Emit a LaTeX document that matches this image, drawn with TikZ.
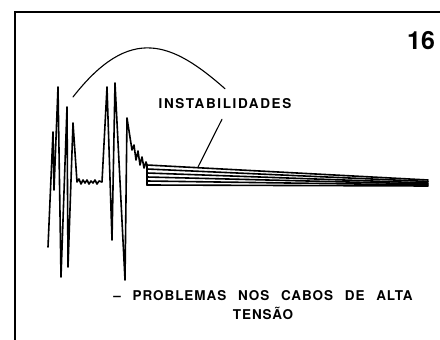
\documentclass[tikz,border=0pt]{standalone}
\usepackage{fontspec}
\setmainfont{TeX Gyre Heros}
\newfontfamily\capsfont[LetterSpace=7,WordSpace=2.5]{TeX Gyre Heros}
\newfontfamily\tagfont[LetterSpace=12]{TeX Gyre Heros}
\usetikzlibrary{positioning}

\begin{document}
\begin{tikzpicture}[x=1pt,y=-1pt,line cap=round,
    caption/.style={font=\capsfont\bfseries\fontsize{13.5}{19.5}\selectfont,inner sep=0pt},
    tag/.style={font=\tagfont\bfseries\fontsize{13.5}{16}\selectfont,inner sep=0pt},
    trace/.style={line width=1.6pt,line join=round},
    leader/.style={line width=1.1pt}]
    \useasboundingbox (0,0) rectangle (440,340);
    % frame
    \draw[line width=1.5pt] (15,350) -- (15,12) -- (450,12);
    \node[font=\bfseries\fontsize{25}{28}\selectfont,inner sep=0pt] (fignum) at (421,41) {16};
    \node[tag] (instab) at (225,104) {INSTABILIDADES};
    \node[caption,align=center] (problemas) at (263,305) {– PROBLEMAS NOS CABOS DE ALTA\\TENSÃO};
    % waveform
    \draw[trace] (48,247) -- (53,132) -- (54,190) -- (58,87) -- (61,277) -- (67,107)
      -- (68,267) -- (73,123) -- (77,182) -- (79,179) -- (81,184) -- (83,180)
      -- (85,183) -- (87,180) -- (89,184) -- (91,181) -- (93,183) -- (95,180)
      -- (97,184) -- (99,181) -- (102,182) -- (107,87) -- (112,240) -- (115,83)
      -- (125,280) -- (127,118) -- (132,150) -- (134,145) -- (136,160) -- (138,151)
      -- (140,165) -- (142,157) -- (144,168) -- (146,162) -- (147,165) -- (147,185);
    \foreach \ya/\yb in {165/180,169/181.5,173/183,177/184,181/185,185/186}
      \draw[trace] (147,\ya) -- (428,\yb);
    % leaders
    \coordinate (arcL) at (73,97);
    \coordinate (ptr) at (198,167);
    \draw[leader] (arcL) .. controls (130,24) and (172,42) .. ([yshift=10pt]instab.north);
    \draw[leader] ([shift={(-3,10)}]instab.south) -- (ptr);
\end{tikzpicture}
\end{document}
